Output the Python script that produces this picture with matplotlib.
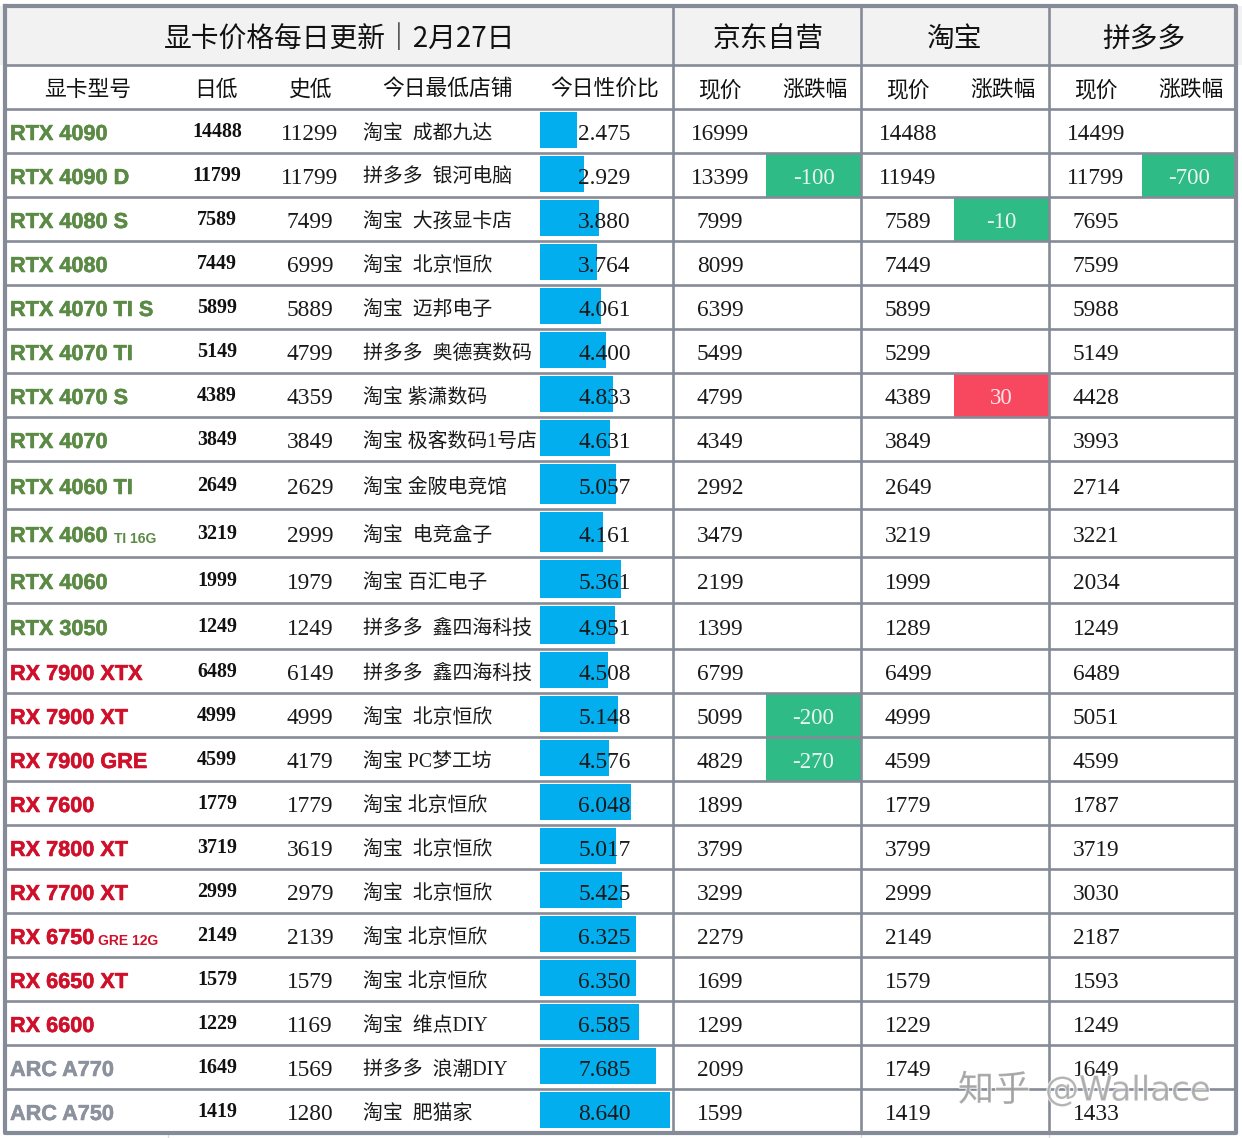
#! /usr/bin/env python3
import matplotlib
matplotlib.use('Agg')
import matplotlib.pyplot as plt
import matplotlib.patheffects as pe

models = ['RTX 4090', 'RTX 4090 D', 'RTX 4080 S', 'RTX 4080', 'RTX 4070 TI S', 'RTX 4070 TI',
          'RTX 4070 S', 'RTX 4070', 'RTX 4060 TI', 'RTX 4060', 'RTX 4060', 'RTX 3050',
          'RX 7900 XTX', 'RX 7900 XT', 'RX 7900 GRE', 'RX 7600', 'RX 7800 XT', 'RX 7700 XT',
          'RX 6750', 'RX 6650 XT', 'RX 6600', 'ARC A770', 'ARC A750']
suffix = {9: 'TI 16G', 18: 'GRE 12G'}
day_low = [14488, 11799, 7589, 7449, 5899, 5149, 4389, 3849, 2649, 3219, 1999, 1249,
           6489, 4999, 4599, 1779, 3719, 2999, 2149, 1579, 1229, 1649, 1419]
hist_low = [11299, 11799, 7499, 6999, 5889, 4799, 4359, 3849, 2629, 2999, 1979, 1249,
            6149, 4999, 4179, 1779, 3619, 2979, 2139, 1579, 1169, 1569, 1280]
stores = ['淘宝  成都九达', '拼多多  银河电脑', '淘宝  大孩显卡店', '淘宝  北京恒欣', '淘宝  迈邦电子',
          '拼多多  奥德赛数码', '淘宝 紫潇数码', '淘宝 极客数码1号店', '淘宝 金陂电竞馆', '淘宝  电竞盒子',
          '淘宝 百汇电子', '拼多多  鑫四海科技', '拼多多  鑫四海科技', '淘宝  北京恒欣', '淘宝 PC梦工坊',
          '淘宝 北京恒欣', '淘宝  北京恒欣', '淘宝  北京恒欣', '淘宝 北京恒欣', '淘宝 北京恒欣',
          '淘宝  维点DIY', '拼多多  浪潮DIY', '淘宝  肥猫家']
ratio = [2.475, 2.929, 3.880, 3.764, 4.061, 4.400, 4.833, 4.631, 5.057, 4.161, 5.361, 4.951,
         4.508, 5.148, 4.576, 6.048, 5.017, 5.425, 6.325, 6.350, 6.585, 7.685, 8.640]
jd_price = [16999, 13399, 7999, 8099, 6399, 5499, 4799, 4349, 2992, 3479, 2199, 1399,
            6799, 5099, 4829, 1899, 3799, 3299, 2279, 1699, 1299, 2099, 1599]
tb_price = [14488, 11949, 7589, 7449, 5899, 5299, 4389, 3849, 2649, 3219, 1999, 1289,
            6499, 4999, 4599, 1779, 3799, 2999, 2149, 1579, 1229, 1749, 1419]
pdd_price = [14499, 11799, 7695, 7599, 5988, 5149, 4428, 3993, 2714, 3221, 2034, 1249,
             6489, 5051, 4599, 1787, 3719, 3030, 2187, 1593, 1249, 1649, 1433]
jd_change = {1: -100, 13: -200, 14: -270}
tb_change = {2: -10, 6: 30}
pdd_change = {1: -700}
groups = ['京东自营', '淘宝', '拼多多']
title = '显卡价格每日更新｜2月27日'
sub_heads = ['显卡型号', '日低', '史低', '今日最低店铺', '今日性价比',
             '现价', '涨跌幅', '现价', '涨跌幅', '现价', '涨跌幅']

# layout, in pixels of the 1242x1138 picture
row_edges = [109, 153, 197, 241, 285, 329, 373, 417, 461, 509, 557, 603, 649,
             693, 737, 781, 825, 869, 913, 957, 1001, 1045, 1089, 1133]
sub_x = [87.5, 216, 310, 447, 605, 720, 815, 908, 1003, 1096, 1191]
line_col = '#858b97'
cjk = ['Noto Sans CJK SC', 'DejaVu Sans']
serif = ['Liberation Serif', 'Noto Sans CJK SC']
PX_PER_RATIO = 15.1


def model_color(name):
    if name.startswith('RTX'):
        return '#5a8a43'
    if name.startswith('RX'):
        return '#d0102a'
    return '#8b929e'


fig = plt.figure(figsize=(12.42, 11.38), dpi=100)
ax = fig.add_axes([0, 0, 1, 1])
ax.set_xlim(0, 1242)
ax.set_ylim(1138, 0)
ax.axis('off')

ax.axhspan(6, 65, color='#f2f2f2', zorder=0, lw=0)

tops = row_edges[:-1]
bottoms = row_edges[1:]
mids = [(a + b) / 2 for a, b in zip(tops, bottoms)]

# 性价比 bars
bar_mid = [(a + 3 + b - 5) / 2 for a, b in zip(tops, bottoms)]
bar_h = [b - a - 8 for a, b in zip(tops, bottoms)]
ax.barh(bar_mid, [r * PX_PER_RATIO for r in ratio], left=540, height=bar_h,
        color='#02aeee', lw=0, zorder=1)

# change cells
for changes, x0, x1 in [(jd_change, 766, 861), (tb_change, 954, 1049), (pdd_change, 1142, 1236)]:
    for i, v in changes.items():
        c = '#2fbb85' if v < 0 else '#f8485f'
        ax.fill_between([x0, x1], tops[i], bottoms[i], color=c, lw=0, zorder=1)
        ax.text((x0 + x1) / 2, mids[i] + 3, str(v), color='#e8f6ef' if v < 0 else '#ffe6e6',
                family=serif, fontsize=16.5, ha='center', va='center', zorder=4)

# grid
for y in [65] + row_edges[:-1]:
    ax.plot([5, 1236], [y, y], color=line_col, lw=1.9, zorder=2, solid_capstyle='butt')
for x in [673, 861, 1049]:
    ax.plot([x, x], [6, 1133], color=line_col, lw=1.9, zorder=2, solid_capstyle='butt')
ax.plot([5, 1236, 1236, 5, 5], [6, 6, 1133, 1133, 6], color=line_col, lw=3, zorder=2,
        solid_capstyle='projecting')
for x in [168, 861, 1049]:
    ax.plot([x, x], [1134, 1138], color='#dddddd', lw=1, zorder=1)

# headers
ax.text(340, 38.5, title, family=cjk, fontsize=20, ha='center', va='center', color='#111111', zorder=4)
for x, g in zip([768, 955, 1144], groups):
    ax.text(x, 38.5, g, family=cjk, fontsize=20, ha='center', va='center', color='#111111', zorder=4)
for x, h in zip(sub_x, sub_heads):
    ax.text(x, 90, h, family=cjk, fontsize=15.7, ha='center', va='center', color='#111111', zorder=4)

# rows
for i, name in enumerate(models):
    y = mids[i]
    c = model_color(name)
    ax.text(10, y + 3.5, name, family='Liberation Sans', weight='bold', fontsize=15.6, color=c,
            ha='left', va='center', zorder=4,
            path_effects=[pe.withStroke(linewidth=0.4, foreground=c)])
    if i in suffix:
        x_s = 114 if i == 9 else 98
        ax.text(x_s, y + 6, suffix[i], family='Liberation Sans', weight='bold', fontsize=10,
                color=c, ha='left', va='center', zorder=4)
    ax.text(217, y + 1, str(day_low[i]), family='Liberation Serif', weight='bold', fontsize=14.4,
            color='#111111', ha='center', va='center', zorder=4)
    ax.text(310, y + 3, str(hist_low[i]), family=serif, fontsize=16.8, color='#1a1a1a',
            ha='center', va='center', zorder=4)
    ax.text(363, y + 3, stores[i], family=serif, fontsize=14.3, color='#1a1a1a',
            ha='left', va='center', zorder=4)
    ax.text(604.5, y + 3, '%.3f' % ratio[i], family=serif, fontsize=16.8, color='#1a1a1a',
            ha='center', va='center', zorder=4)
    for x, prices in zip([720, 908, 1096], [jd_price, tb_price, pdd_price]):
        ax.text(x, y + 3, str(prices[i]), family=serif, fontsize=16.8, color='#1a1a1a',
                ha='center', va='center', zorder=4)

# watermark
ax.text(958, 1091, '知乎', family=cjk, fontsize=26, color='#9a9a9a', alpha=0.75,
        ha='left', va='center', zorder=5,
        path_effects=[pe.withStroke(linewidth=1.5, foreground='white')])
ax.text(1045, 1091, '@Wallace', family='DejaVu Sans', fontsize=24.5, color='#a5a5a5', alpha=0.75,
        ha='left', va='center', zorder=5,
        path_effects=[pe.withStroke(linewidth=1.5, foreground='white')])

fig.savefig('out.png', dpi=100)
